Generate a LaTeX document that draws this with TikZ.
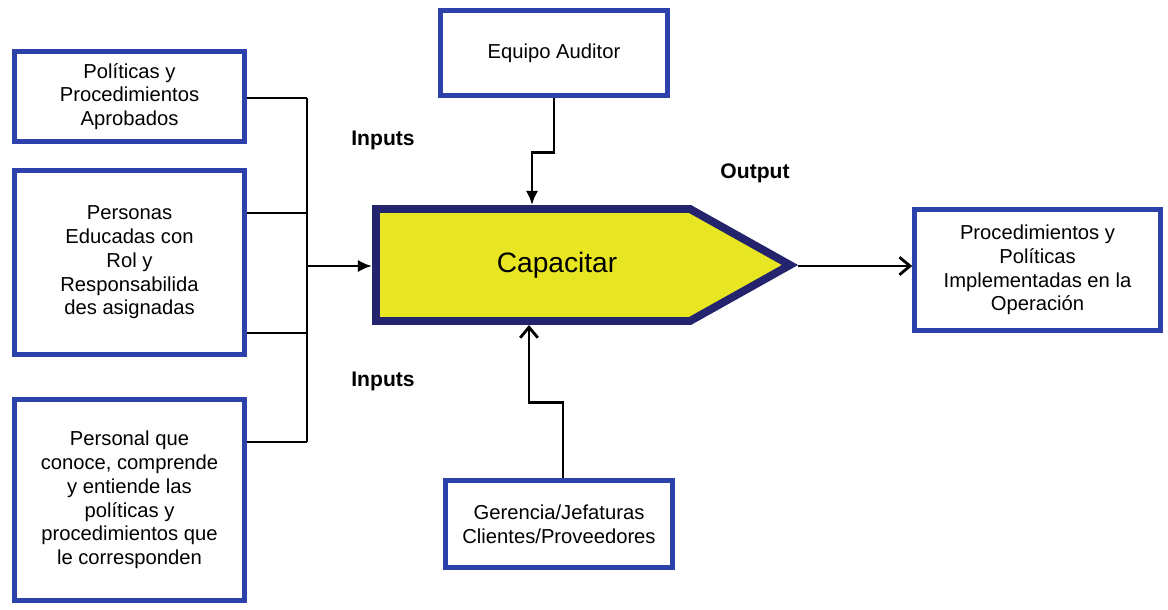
\documentclass[tikz,border=0pt]{standalone}
\usepackage{fontspec}
\setmainfont{Liberation Sans}
\usetikzlibrary{arrows.meta}

\definecolor{boxblue}{RGB}{45,65,170}
\definecolor{capnavy}{RGB}{35,35,110}
\definecolor{capyellow}{RGB}{232,230,35}

\begin{document}
\begin{tikzpicture}[
    caja/.style={draw=boxblue, line width=2.6pt, fill=white, align=center, inner sep=0pt, font=\fontsize{11.5}{13.5}\selectfont},
    enlace/.style={line width=1.6pt},
    etiqueta/.style={font=\fontsize{12}{14}\selectfont\bfseries}
  ]
    \useasboundingbox (0,0) rectangle (23.36,-12.18);
    \node [caja, minimum width=4.6cm, minimum height=1.8cm] (pol) at (2.59,-1.93) {Políticas y\\Procedimientos\\Aprobados};
    \node [caja, minimum width=4.6cm, minimum height=3.68cm] (per) at (2.59,-5.25) {Personas\\Educadas con\\Rol y\\Responsabilida\\des asignadas};
    \node [caja, minimum width=4.6cm, minimum height=4.02cm] (con) at (2.59,-10.0) {Personal que\\conoce, comprende\\y entiende las\\políticas y\\procedimientos que\\le corresponden};
    \node [caja, minimum width=4.54cm, minimum height=1.7cm] (aud) at (11.08,-1.06) {Equipo Auditor};
    \node [caja, minimum width=4.54cm, minimum height=1.74cm] (ger) at (11.18,-10.48) {Gerencia/Jefaturas\\Clientes/Proveedores};
    \node [caja, minimum width=4.92cm, minimum height=2.42cm] (imp) at (20.75,-5.4) {Procedimientos y\\Políticas\\Implementadas en la\\Operación};
    \filldraw [fill=capyellow, draw=capnavy, line width=4.5pt] (7.52,-4.18) -- (13.8,-4.18) -- (15.8,-5.3) -- (13.8,-6.42) -- (7.52,-6.42) -- cycle;
    \node [font=\fontsize{16}{18}\selectfont] (cap) at (11.14,-5.3) {Capacitar};
    \coordinate (capW) at (7.44,-5.32);
    \coordinate (capN) at (10.64,-4.1);
    \coordinate (capS) at (10.58,-6.5);
    \coordinate (capE) at (15.96,-5.32);
    \coordinate (busT) at (6.14,-1.96);
    \coordinate (busB) at (6.14,-8.84);
    \draw [enlace] (busT) -- (busB);
    \draw [enlace] (pol.east |- busT) -- (busT);
    \draw [enlace] ([yshift=0.99cm]per.east) -- ([yshift=0.99cm]per.east -| busT);
    \draw [enlace] ([yshift=-1.41cm]per.east) -- ([yshift=-1.41cm]per.east -| busT);
    \draw [enlace] (con.east |- busB) -- (busB);
    \draw [enlace, -{Latex[length=8pt,width=7pt]}] (capW -| busT) -- (capW);
    \draw [enlace, -{Latex[length=8pt,width=7pt]}] (aud.south) -- ++(0,-1.1) -| (capN);
    \draw [enlace, -{Straight Barb[length=6pt,width=10pt]}] ([xshift=0.08cm]ger.north) -- ++(0,1.52) -| (capS);
    \draw [enlace, -{Straight Barb[length=6pt,width=10pt]}] (capE) -- (imp.west |- capE);
    \node [etiqueta] (in1) at (7.66,-2.8) {Inputs};
    \node [etiqueta] (in2) at (7.66,-7.62) {Inputs};
    \node [etiqueta] (out) at (15.1,-3.46) {Output};
\end{tikzpicture}
\end{document}
